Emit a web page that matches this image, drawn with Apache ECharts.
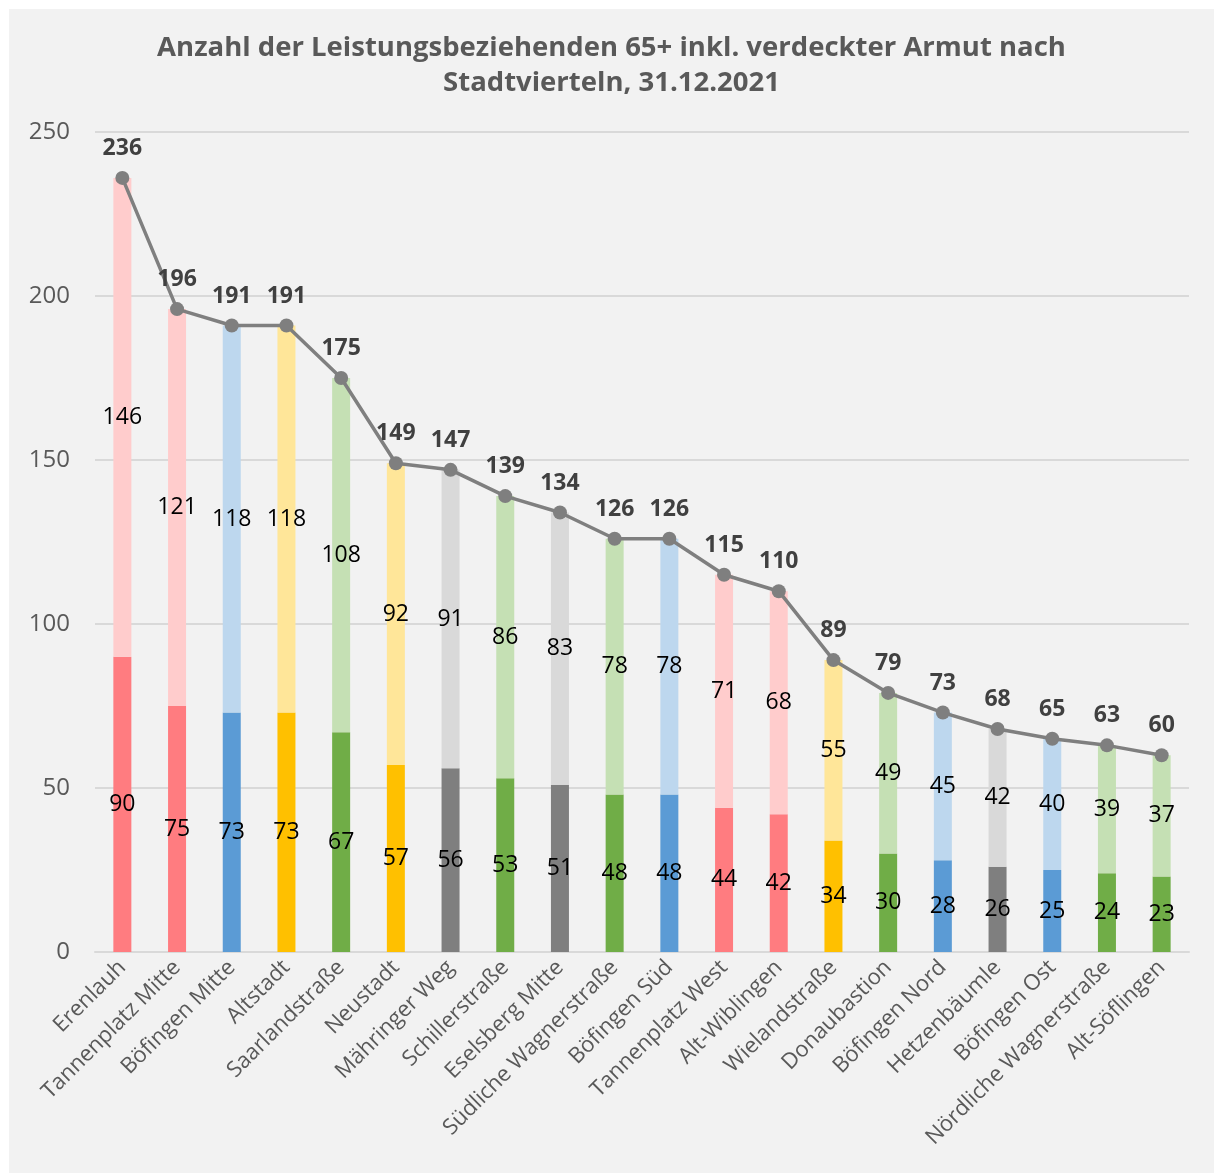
<!DOCTYPE html>
<html>
<head>
<meta charset="utf-8">
<script src="https://cdn.jsdelivr.net/npm/echarts@6/dist/echarts.min.js"></script>
<style>
  html, body { margin: 0; padding: 0; background: #ffffff; }
  #main { position: absolute; left: 9px; top: 9px; width: 1205px; height: 1164px; background: #f2f2f2; }
</style>
</head>
<body>
<div id="main"></div>
<script>
// Stadtviertel
var viertel = ['Erenlauh', 'Tannenplatz Mitte', 'Böfingen Mitte', 'Altstadt', 'Saarlandstraße',
    'Neustadt', 'Mähringer Weg', 'Schillerstraße', 'Eselsberg Mitte', 'Südliche Wagnerstraße',
    'Böfingen Süd', 'Tannenplatz West', 'Alt-Wiblingen', 'Wielandstraße', 'Donaubastion',
    'Böfingen Nord', 'Hetzenbäumle', 'Böfingen Ost', 'Nördliche Wagnerstraße', 'Alt-Söflingen'];
// unterer Teil (dunkel) und oberer Teil (hell)
var unten = [90, 75, 73, 73, 67, 57, 56, 53, 51, 48, 48, 44, 42, 34, 30, 28, 26, 25, 24, 23];
var oben = [146, 121, 118, 118, 108, 92, 91, 86, 83, 78, 78, 71, 68, 55, 49, 45, 42, 40, 39, 37];
// Summe
var gesamt = [236, 196, 191, 191, 175, 149, 147, 139, 134, 126, 126, 115, 110, 89, 79, 73, 68, 65, 63, 60];
// Farbgruppe je Viertel
var gruppe = ['rot', 'rot', 'blau', 'gelb', 'gruen', 'gelb', 'grau', 'gruen', 'grau', 'gruen',
    'blau', 'rot', 'rot', 'gelb', 'gruen', 'blau', 'grau', 'blau', 'gruen', 'gruen'];

var dunkel = { rot: '#ff7c80', blau: '#5b9bd5', gelb: '#ffc000', gruen: '#70ad47', grau: '#7f7f7f' };
var hell = { rot: '#ffcccc', blau: '#bdd7ee', gelb: '#ffe699', gruen: '#c5e0b4', grau: '#d9d9d9' };

var font = '"Open Sans", "Noto Sans", sans-serif';

var chart = echarts.init(document.getElementById('main'));

var option = {
    animation: false,
    textStyle: { fontFamily: font },
    title: {
        text: 'Anzahl der Leistungsbeziehenden 65+ inkl. verdeckter Armut nach\nStadtvierteln, 31.12.2021',
        left: 'center',
        top: 17,
        textStyle: {
            fontFamily: font,
            fontSize: 27.5,
            fontWeight: 'bold',
            color: '#595959',
            lineHeight: 35
        }
    },
    grid: { left: 86, top: 123, width: 1094, height: 820 },
    xAxis: {
        type: 'category',
        data: viertel,
        axisLine: { lineStyle: { color: '#d9d9d9', width: 2 } },
        axisTick: { show: false },
        axisLabel: {
            interval: 0,
            rotate: 45,
            margin: 12,
            fontSize: 22,
            color: '#595959',
            fontFamily: font
        }
    },
    yAxis: {
        type: 'value',
        min: 0,
        max: 250,
        interval: 50,
        axisLine: { show: false },
        axisTick: { show: false },
        splitLine: { lineStyle: { color: '#d9d9d9', width: 2 } },
        axisLabel: { fontSize: 24, color: '#595959', margin: 25, fontFamily: font }
    },
    series: [
        {
            name: 'unten',
            type: 'bar',
            stack: 'a',
            barWidth: 18,
            data: unten.map(function (v, i) {
                return { value: v, itemStyle: { color: dunkel[gruppe[i]] } };
            }),
            label: { show: true, position: 'inside', color: '#000', fontSize: 23, fontFamily: font }
        },
        {
            name: 'oben',
            type: 'bar',
            stack: 'a',
            barWidth: 18,
            data: oben.map(function (v, i) {
                return { value: v, itemStyle: { color: hell[gruppe[i]] } };
            }),
            label: { show: true, position: 'inside', color: '#000', fontSize: 23, fontFamily: font }
        },
        {
            name: 'gesamt',
            type: 'line',
            data: gesamt,
            symbol: 'circle',
            symbolSize: 14,
            z: 5,
            lineStyle: { color: '#7f7f7f', width: 3.5 },
            itemStyle: { color: '#7f7f7f' },
            label: {
                show: true,
                position: 'top',
                distance: 11,
                color: '#404040',
                fontWeight: 'bold',
                fontSize: 23,
                fontFamily: font
            }
        }
    ]
};

chart.setOption(option);
</script>
</body>
</html>
